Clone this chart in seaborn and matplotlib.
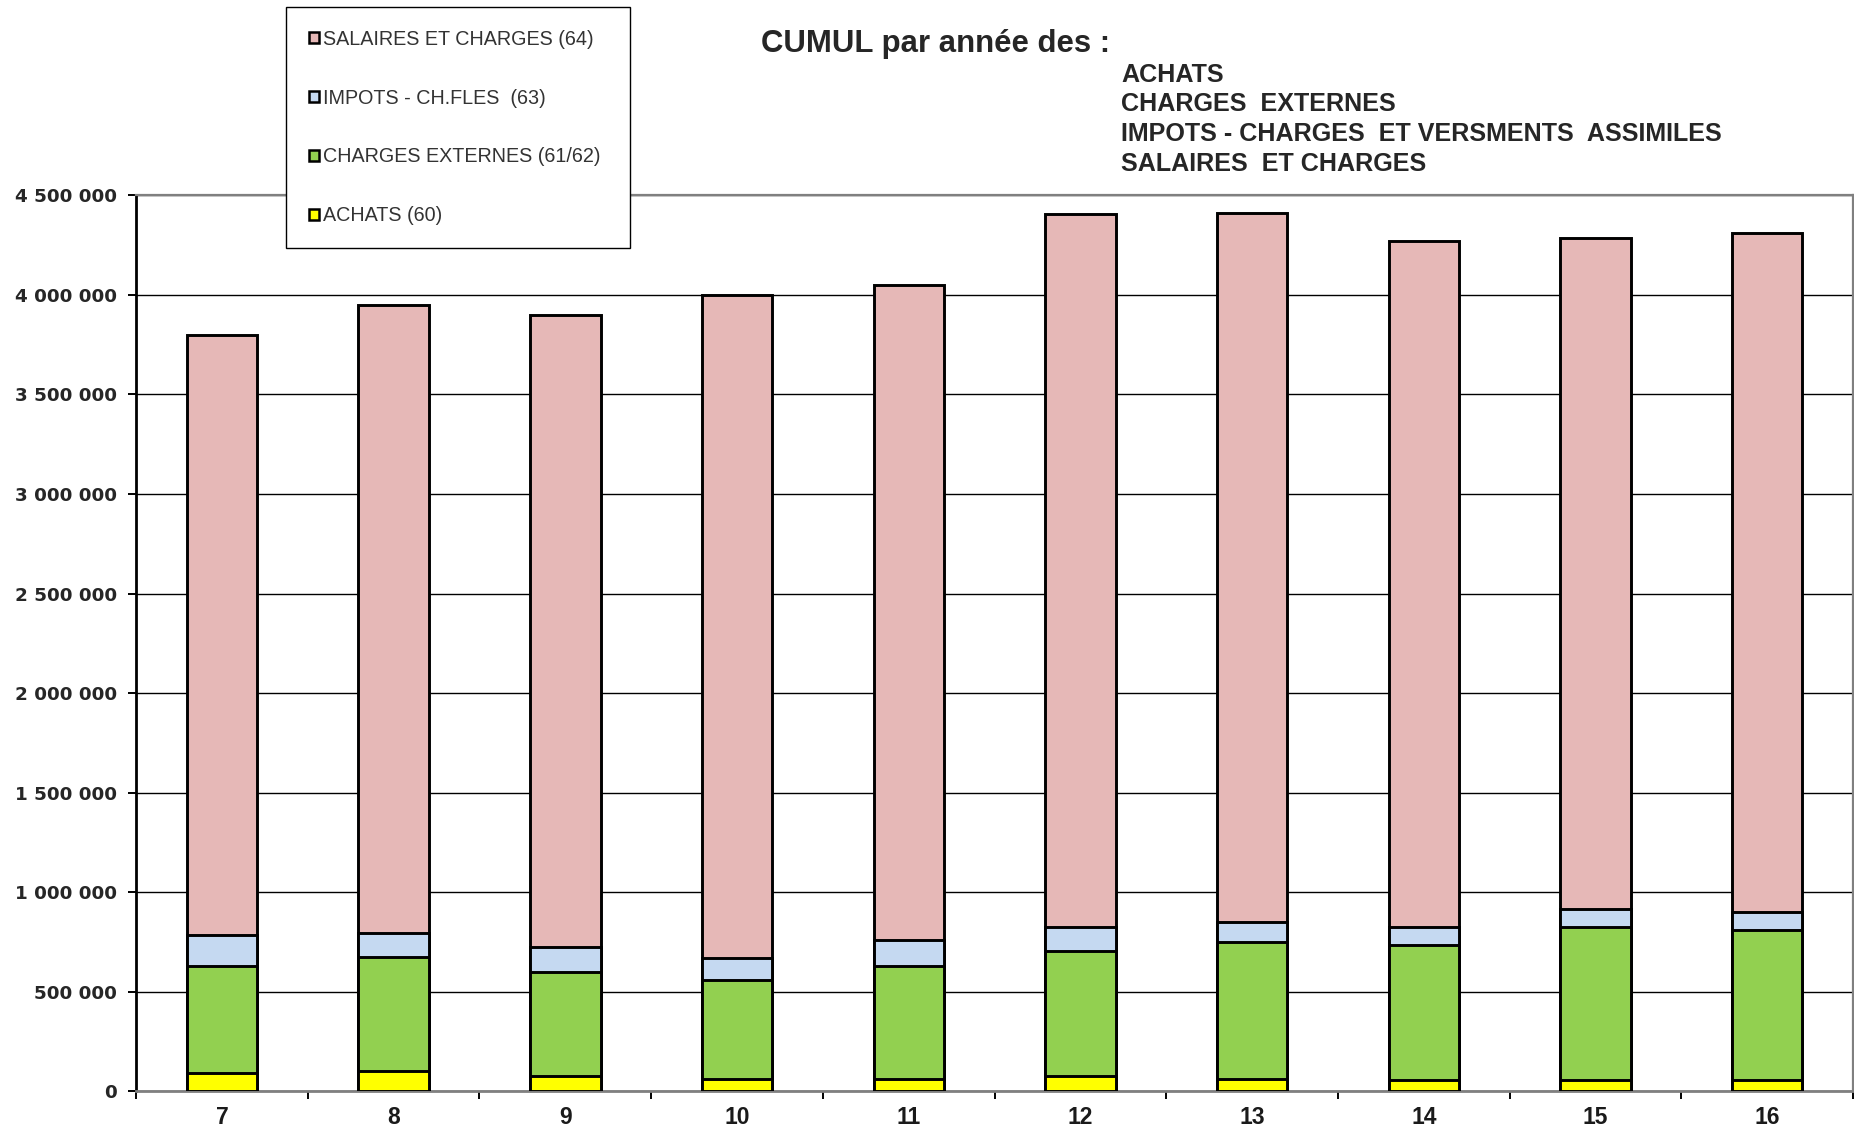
import matplotlib
matplotlib.use("Agg")
import matplotlib.pyplot as plt
from matplotlib.patches import Patch
from matplotlib.ticker import FuncFormatter, FixedLocator, MultipleLocator
import seaborn as sns
import numpy as np
import pandas as pd

# data (euros)
years = ['7', '8', '9', '10', '11', '12', '13', '14', '15', '16']
achats = [90000, 103000, 77000, 60000, 60000, 75000, 62000, 57000, 57000, 57000]
charges_externes = [539000, 572000, 521000, 499000, 569000, 627000, 685000, 678000, 765000, 753000]
impots = [155000, 119000, 125000, 109000, 130000, 122000, 102000, 88000, 93000, 91000]
salaires = [3013000, 3156000, 3175000, 3332000, 3293000, 3584000, 3565000, 3449000, 3370000, 3411000]

labels = ['SALAIRES ET CHARGES (64)', 'IMPOTS - CH.FLES  (63)',
          'CHARGES EXTERNES (61/62)', 'ACHATS (60)']
colours = ['#E6B8B7', '#C5D9F1', '#92D050', '#FFFF00']

df = pd.DataFrame({'annee': years, 'achats': achats, 'ext': charges_externes,
                   'impots': impots, 'salaires': salaires})
df['c_achats'] = df['achats']
df['c_ext'] = df['c_achats'] + df['ext']
df['c_impots'] = df['c_ext'] + df['impots']
df['c_total'] = df['c_impots'] + df['salaires']

sns.set_style('white')
arial = ['Liberation Sans', 'DejaVu Sans']

fig = plt.figure(figsize=(18.54, 11.30), dpi=100)
ax = fig.add_axes([0.0734, 0.0345, 0.9261, 0.7925])

# stacked bars: draw cumulative totals from the top layer down
for col, c in zip(['c_total', 'c_impots', 'c_ext', 'c_achats'], colours):
    sns.barplot(ax=ax, data=df, x='annee', y=col, order=years, color=c,
                saturation=1, width=0.41, edgecolor='black', linewidth=2.1,
                errorbar=None, zorder=3)

ax.set_xlim(-0.5, len(years) - 0.5)
ax.set_ylim(0, 4500000)
ax.yaxis.set_major_locator(MultipleLocator(500000))
ax.yaxis.set_major_formatter(FuncFormatter(lambda v, p: f"{int(v):,}".replace(',', ' ')))
ax.grid(axis='y', color='black', linewidth=1.0, zorder=0)
ax.grid(axis='x', visible=False)
ax.set_axisbelow(True)
ax.set_xlabel('')
ax.set_ylabel('')

ax.xaxis.set_minor_locator(FixedLocator(np.arange(-0.5, len(years), 1.0)))
ax.tick_params(axis='x', which='major', length=0, pad=11)
ax.tick_params(axis='x', which='minor', direction='out', length=6, width=1.4, color='black', bottom=True)
ax.tick_params(axis='y', which='major', direction='out', length=6, width=1.4, color='black', left=True, pad=8)
for t in ax.get_xticklabels():
    t.set_family(arial); t.set_fontweight('bold'); t.set_fontsize(16.5); t.set_color('#1a1a1a')
for t in ax.get_yticklabels():
    t.set_family('DejaVu Sans'); t.set_fontweight('bold'); t.set_fontsize(13.2)

ax.spines['left'].set_color('black'); ax.spines['left'].set_linewidth(2.0)
ax.spines['bottom'].set_color('#808080'); ax.spines['bottom'].set_linewidth(2.0)
ax.spines['top'].set_color('#808080'); ax.spines['top'].set_linewidth(1.6)
ax.spines['right'].set_color('#808080'); ax.spines['right'].set_linewidth(1.6)

# legend box sitting over the top of the plot frame
handles = [Patch(facecolor=c, edgecolor='black', linewidth=1.8) for c in colours]
leg = fig.legend(handles, labels, loc='upper left',
                 bbox_to_anchor=(0.1543, 0.9938 - 0.2080, 0.1855, 0.2080),
                 bbox_transform=fig.transFigure, mode='expand', borderaxespad=0,
                 frameon=True, fancybox=False, framealpha=1, edgecolor='black',
                 prop={'family': arial, 'size': 14.2},
                 labelcolor='#333333', handlelength=0.5, handleheight=0.5,
                 handletextpad=0.22, labelspacing=2.02, borderpad=1.15)
leg.get_frame().set_linewidth(1.0)

fig.text(0.4105, 0.961, 'CUMUL par année des :', family=arial, fontweight='bold',
         fontsize=22.4, va='center', ha='left')
sub = ['ACHATS', 'CHARGES  EXTERNES', 'IMPOTS - CHARGES  ET VERSMENTS  ASSIMILES', 'SALAIRES  ET CHARGES']
for i, s in enumerate(sub):
    fig.text(0.6047, 1 - (74.5 + 29.7 * i) / 1130, s, family=arial, fontweight='bold',
             fontsize=18.1, va='center', ha='left')

fig.savefig('out.png', dpi=100, facecolor='white')
